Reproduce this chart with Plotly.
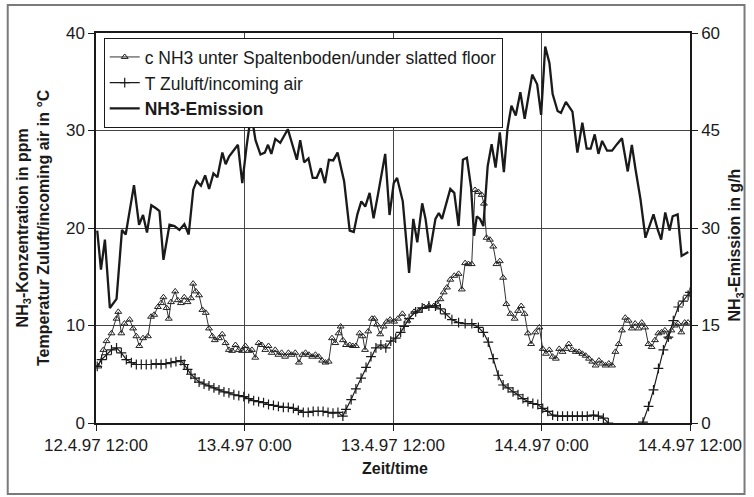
import plotly.graph_objects as go

# ---------------- data (time in hours after 12.4.97 12:00) ----------------
x_tick_hours = [0, 12, 24, 36, 48]
x_tick_labels = ["12.4.97 12:00", "13.4.97 0:00", "13.4.97 12:00", "14.4.97 0:00", "14.4.97 12:00"]

# c NH3 unter Spaltenboden (ppm)
c_hours = [0.19, 0.6, 0.85, 1.25, 1.66, 1.8, 2.05, 2.3, 2.72, 3.0, 3.26, 3.5, 3.8, 4.2, 4.45, 4.7, 5.0, 5.26,
           5.45, 5.7, 5.88, 6.06, 6.4, 6.6, 6.86, 7.13, 7.4, 7.67, 7.85, 8.07, 8.33, 8.6, 8.87, 9.13, 9.4, 9.6,
           9.94, 10.2, 10.47, 10.74, 11.0, 11.27, 11.54, 11.8, 12.07, 12.34, 12.6, 12.87, 13.14, 13.4, 13.68,
           13.94, 14.2, 14.48, 14.74, 15.0, 15.28, 15.55, 15.8, 16.1, 16.4, 16.67, 16.93, 17.2, 17.47, 17.73,
           18.0, 18.27, 18.54, 18.8, 19.07, 19.34, 19.6, 19.77, 19.95, 20.2, 20.5, 20.75, 21.0, 21.3, 21.55,
           21.74, 22.0, 22.3, 22.5, 22.7, 22.97, 23.24, 23.5, 23.77, 24.09, 24.4, 24.76, 25.16, 25.7, 26.1,
           26.5, 26.9, 27.3, 27.56, 27.83, 28.1, 28.36, 28.63, 28.95, 29.3, 29.56, 29.83, 30.1, 30.36, 30.63,
           30.9, 31.16, 31.35, 31.56, 31.83, 32.1, 32.36, 32.63, 32.9, 33.16, 33.5, 33.83, 34.1, 34.36, 34.63,
           34.9, 35.16, 35.5, 35.83, 36.1, 36.36, 36.63, 36.9, 37.16, 37.43, 37.7, 37.96, 38.2, 38.5, 38.77,
           39.04, 39.3, 39.57, 39.84, 40.1, 40.37, 40.64, 40.9, 41.17, 41.44, 41.7, 41.97, 42.24, 42.5, 42.77,
           43.04, 43.3, 43.57, 43.84, 44.1, 44.37, 44.64, 44.9, 45.17, 45.44, 45.7, 45.97, 46.24, 46.5, 46.77,
           47.04, 47.3, 47.57, 47.84]
c_ppm = [5.8, 7.5, 8.4, 9.2, 10.7, 11.4, 9.2, 10.2, 10.6, 9.7, 8.9, 7.9, 8.7, 8.9, 10.9, 11.1, 11.9, 12.3,
         12.9, 11.8, 10.7, 12.4, 13.5, 12.6, 12.3, 12.9, 12.4, 12.8, 14.3, 13.5, 13.1, 11.6, 11.3, 9.7, 8.9, 8.5,
         8.7, 9.1, 8.2, 7.5, 7.4, 8.0, 7.5, 7.4, 7.9, 7.4, 7.5, 6.7, 8.2, 8.0, 7.5,
         7.9, 7.2, 7.5, 7.0, 7.2, 6.8, 7.2, 7.0, 7.2, 6.2, 7.0, 7.2, 7.0, 6.8, 7.0,
         6.8, 6.4, 6.2, 6.3, 8.7, 8.2, 9.2, 9.9, 8.5, 8.0, 8.0, 7.9, 7.9, 9.2, 8.9,
         7.5, 9.4, 10.7, 10.7, 10.1, 9.1, 9.9, 10.4, 10.6, 10.4, 10.7, 11.2, 10.5, 11.4, 11.5,
         11.9, 12.0, 12.0, 12.2, 12.7, 13.4, 13.9, 14.7, 15.1, 15.3, 13.7, 16.4, 16.3, 16.3, 23.9,
         23.7, 23.4, 22.5, 19.0, 18.8, 18.1, 16.3, 16.6, 14.9, 12.2, 11.2, 10.7, 11.5, 12.0, 11.2,
         9.2, 8.1, 9.3, 9.8, 7.6, 7.1, 7.5, 6.8, 6.6, 7.6, 7.3, 7.6, 8.1, 7.5, 7.3,
         7.3, 7.1, 6.9, 6.6, 6.3, 5.9, 6.4, 6.1, 5.9, 6.1, 5.9, 7.3, 8.1, 9.5, 10.8,
         10.5, 9.7, 10.2, 9.7, 10.3, 9.8, 8.1, 7.8, 8.5, 9.2, 9.3, 9.5, 8.8, 9.5, 10.0,
         10.2, 9.3, 10.3, 10.3]

# T Zuluft (deg C)
t_hours = [0.1, 0.45, 0.85, 1.25, 1.66, 2.05, 2.45, 2.86, 3.26, 3.66, 4.06, 4.46, 4.86, 5.26, 5.66, 6.06, 6.46,
           6.86, 7.13, 7.4, 7.67, 8.0, 8.33, 8.73, 9.13, 9.53, 9.94, 10.34, 10.74, 11.14, 11.54, 11.94, 12.34,
           12.74, 13.14, 13.54, 13.94, 14.34, 14.74, 15.14, 15.54, 15.95, 16.35, 16.75, 17.15, 17.55, 17.95,
           18.35, 18.75, 19.15, 19.55, 19.95, 20.2, 20.62, 21.0, 21.42, 21.82, 22.22, 22.62, 23.02, 23.42,
           23.82, 24.22, 24.62, 24.9, 25.3, 25.83, 26.36, 26.9, 27.43, 27.83, 28.23, 28.76, 29.3, 29.83,
           30.37, 30.9, 31.3, 31.7, 32.1, 32.5, 32.9, 33.3, 33.7, 34.1, 34.5, 34.9, 35.3, 35.7, 36.1, 36.5,
           36.9, 37.3, 37.7, 38.1, 38.5, 38.9, 39.3, 39.7, 40.2, 40.6, 41.0, 41.4, 41.8, 42.2, 42.6, 43.0,
           43.4, 43.8, 44.2, 44.65, 45.05, 45.45, 45.85, 46.25, 46.65, 47.05, 47.45, 47.85, 48.0]
t_degc = [5.8, 6.5, 7.0, 7.5, 7.7, 7.2, 6.5, 6.2, 6.0, 6.0, 6.0, 6.0, 6.1, 6.0, 6.1, 6.2, 6.3,
          6.4, 6.0, 5.5, 5.0, 4.6, 4.2, 4.0, 3.8, 3.6, 3.4, 3.2, 3.1, 2.9, 2.8, 2.7, 2.5,
          2.3, 2.2, 2.1, 1.9, 1.8, 1.7, 1.6, 1.6, 1.5, 1.3, 1.1, 1.1, 1.2, 1.2,
          1.2, 1.1, 1.0, 1.1, 0.7, 1.4, 2.4, 3.5, 4.6, 5.7, 6.8, 7.7, 8.0, 7.7,
          8.4, 8.7, 9.3, 9.9, 10.7, 11.4, 11.8, 12.0, 12.0, 11.7, 11.2, 10.6, 10.3, 10.2,
          10.2, 9.8, 9.3, 8.3, 6.6, 4.9, 3.9, 3.6, 3.2, 2.9, 2.5, 2.2, 2.0, 1.9, 1.5, 1.2,
          0.8, 0.7, 0.7, 0.7, 0.7, 0.7, 0.7, 0.7, 0.8, 0.7, 0.5, 0.0, -0.6, -1.0, -1.3, -1.4,
          -1.3, -0.7, 0.1, 1.7, 3.4, 5.6, 7.5, 8.8, 10.5, 11.9, 12.5, 13.1, 13.4]

# NH3-Emission (g/h)
e_hours = [0.1, 0.4, 0.72, 1.12, 1.66, 2.1, 2.4, 2.73, 3.07, 3.48, 3.8, 4.12, 4.47, 4.87, 5.13, 5.45, 5.94,
           6.34, 6.74, 7.14, 7.49, 7.86, 8.13, 8.48, 8.82, 9.14, 9.49, 9.81, 10.21, 10.48, 10.75, 11.15, 11.47,
           11.82, 12.17, 12.54, 12.89, 13.29, 13.64, 13.9, 14.17, 14.49, 14.89, 15.5, 15.88, 16.23, 16.5,
           16.82, 17.17, 17.51, 17.83, 18.16, 18.5, 18.82, 19.17, 19.52, 20.05, 20.5, 20.83, 21.12, 21.44,
           21.76, 22.11, 22.43, 22.78, 23.37, 23.72, 24.06, 24.33, 24.79, 25.3, 25.64, 25.96, 26.36, 26.63,
           26.98, 27.43, 27.7, 27.96, 28.63, 28.95, 29.3, 29.65, 29.97, 30.31, 30.55, 30.77, 31.03, 31.3,
           31.65, 31.97, 32.29, 32.63, 32.96, 33.25, 33.57, 33.92, 34.29, 34.64, 35.25, 35.65, 35.97, 36.3,
           36.64, 36.9, 37.3, 37.57, 37.97, 38.5, 38.9, 39.3, 39.65, 39.97, 40.3, 40.6, 40.9, 41.3, 41.7,
           42.1, 42.5, 42.97, 43.3, 43.6, 44.0, 44.4, 44.7, 45.05, 45.4, 45.67, 46.0, 46.35, 46.6, 47.0,
           47.32, 47.86]
e_gh = [29.6, 23.6, 28.2, 17.7, 19.1, 29.7, 29.0, 32.6, 36.6, 30.5, 32.0, 29.3, 33.5, 33.0, 32.6, 25.1, 30.5,
        30.3, 29.7, 30.6, 29.0, 35.9, 37.2, 36.5, 38.1, 36.0, 38.4, 37.8, 41.6, 39.8, 41.0, 42.0, 42.8,
        36.9, 42.6, 47.6, 43.5, 41.3, 41.6, 42.8, 41.4, 43.7, 43.1, 45.2, 42.8, 40.5, 43.5,
        40.1, 40.7, 37.7, 37.7, 39.2, 36.9, 40.5, 40.4, 41.6, 37.2, 29.6, 29.4, 32.1, 34.1,
        33.3, 35.4, 31.5, 35.1, 41.4, 32.0, 36.9, 37.7, 34.1, 23.1, 31.4, 27.8, 33.8, 31.4,
        26.3, 31.4, 32.3, 31.4, 36.0, 35.4, 30.3, 40.5, 40.8, 36.2, 28.8, 31.8, 31.4, 30.3,
        39.5, 42.9, 39.3, 44.7, 38.6, 45.2, 48.8, 47.3, 50.9, 46.8, 53.6, 52.1, 47.4, 57.9,
        55.4, 50.6, 48.0, 47.7, 49.4, 47.9, 41.6, 46.2, 42.2, 42.2, 44.4, 41.4, 43.4, 41.9, 41.9,
        42.9, 43.8, 38.7, 42.8, 39.0, 34.4, 28.5, 30.3, 32.1, 29.7, 28.2, 32.4, 29.6, 31.8, 32.1,
        25.7, 26.3]

FONT = "Liberation Sans, Arial, Helvetica, sans-serif"
INK = "#1a1a1a"
GRID = "#444444"

fig = go.Figure()
fig.add_trace(go.Scatter(
    x=c_hours, y=c_ppm, mode="lines+markers",
    name="c NH3 unter Spaltenboden/under slatted floor",
    line=dict(color="#333333", width=1),
    marker=dict(symbol="triangle-up-open", size=6, color="#222222", line=dict(width=1)),
))
fig.add_trace(go.Scatter(
    x=t_hours, y=t_degc, mode="lines+markers",
    name="T Zuluft/incoming air",
    line=dict(color=INK, width=1.2),
    marker=dict(symbol="cross-thin-open", size=7, color=INK, line=dict(width=1.2, color=INK)),
))
fig.add_trace(go.Scatter(
    x=e_hours, y=e_gh, mode="lines", yaxis="y2",
    name="<b>NH3-Emission</b>",
    line=dict(color=INK, width=2.3),
))

fig.update_layout(
    width=754, height=497,
    margin=dict(l=96, r=59, t=33, b=74),
    paper_bgcolor="white", plot_bgcolor="white",
    font=dict(family=FONT, size=17, color=INK),
    showlegend=True,
    legend=dict(
        x=0.013, y=0.987, xanchor="left", yanchor="top",
        bgcolor="white", bordercolor=INK, borderwidth=1,
        font=dict(family=FONT, size=17.5, color=INK),
        tracegroupgap=0, itemwidth=30,
    ),
    xaxis=dict(
        range=[0, 48], tickvals=x_tick_hours, ticktext=x_tick_labels,
        showgrid=True, gridcolor=GRID, gridwidth=1.2,
        showline=True, linecolor=INK, linewidth=1.5, mirror=True,
        ticks="outside", ticklen=6, tickcolor=INK, zeroline=False,
        tickfont=dict(family=FONT, size=17, color=INK),
    ),
    yaxis=dict(
        range=[0, 40], dtick=10, tick0=0,
        showgrid=True, gridcolor=GRID, gridwidth=1.2,
        showline=True, linecolor=INK, linewidth=1.5,
        ticks="outside", ticklen=6, tickcolor=INK, zeroline=False,
        tickfont=dict(family=FONT, size=17, color=INK),
    ),
    yaxis2=dict(
        range=[0, 60], dtick=15, tick0=0, overlaying="y", side="right",
        showgrid=False, showline=True, linecolor=INK, linewidth=1.5,
        ticks="outside", ticklen=6, tickcolor=INK, zeroline=False,
        tickfont=dict(family=FONT, size=17, color=INK),
    ),
    annotations=[
        dict(text="<b>NH<sub>3</sub>-Konzentration in ppm<br>Temperatur Zuluft/incoming air in °C</b>",
             x=0, xref="paper", y=0.5, yref="paper", xanchor="center", yanchor="middle",
             xshift=-63, textangle=-90, showarrow=False,
             font=dict(family=FONT, size=16, color=INK)),
        dict(text="<b>NH<sub>3</sub>-Emission in g/h</b>",
             x=1, xref="paper", y=0.455, yref="paper", xanchor="center", yanchor="middle",
             xshift=46, textangle=-90, showarrow=False,
             font=dict(family=FONT, size=16, color=INK)),
        dict(text="<b>Zeit/time</b>",
             x=0.504, xref="paper", y=0, yref="paper", xanchor="center", yanchor="middle",
             yshift=-45, showarrow=False,
             font=dict(family=FONT, size=16, color=INK)),
    ],
    shapes=[
        dict(type="rect", xref="paper", yref="paper",
             x0=-0.1486, x1=1.0918, y0=-0.182, y1=1.0718,
             line=dict(color="#7a7a7a", width=2), fillcolor="rgba(0,0,0,0)", layer="below"),
    ],
)

fig.write_html("out.html")
